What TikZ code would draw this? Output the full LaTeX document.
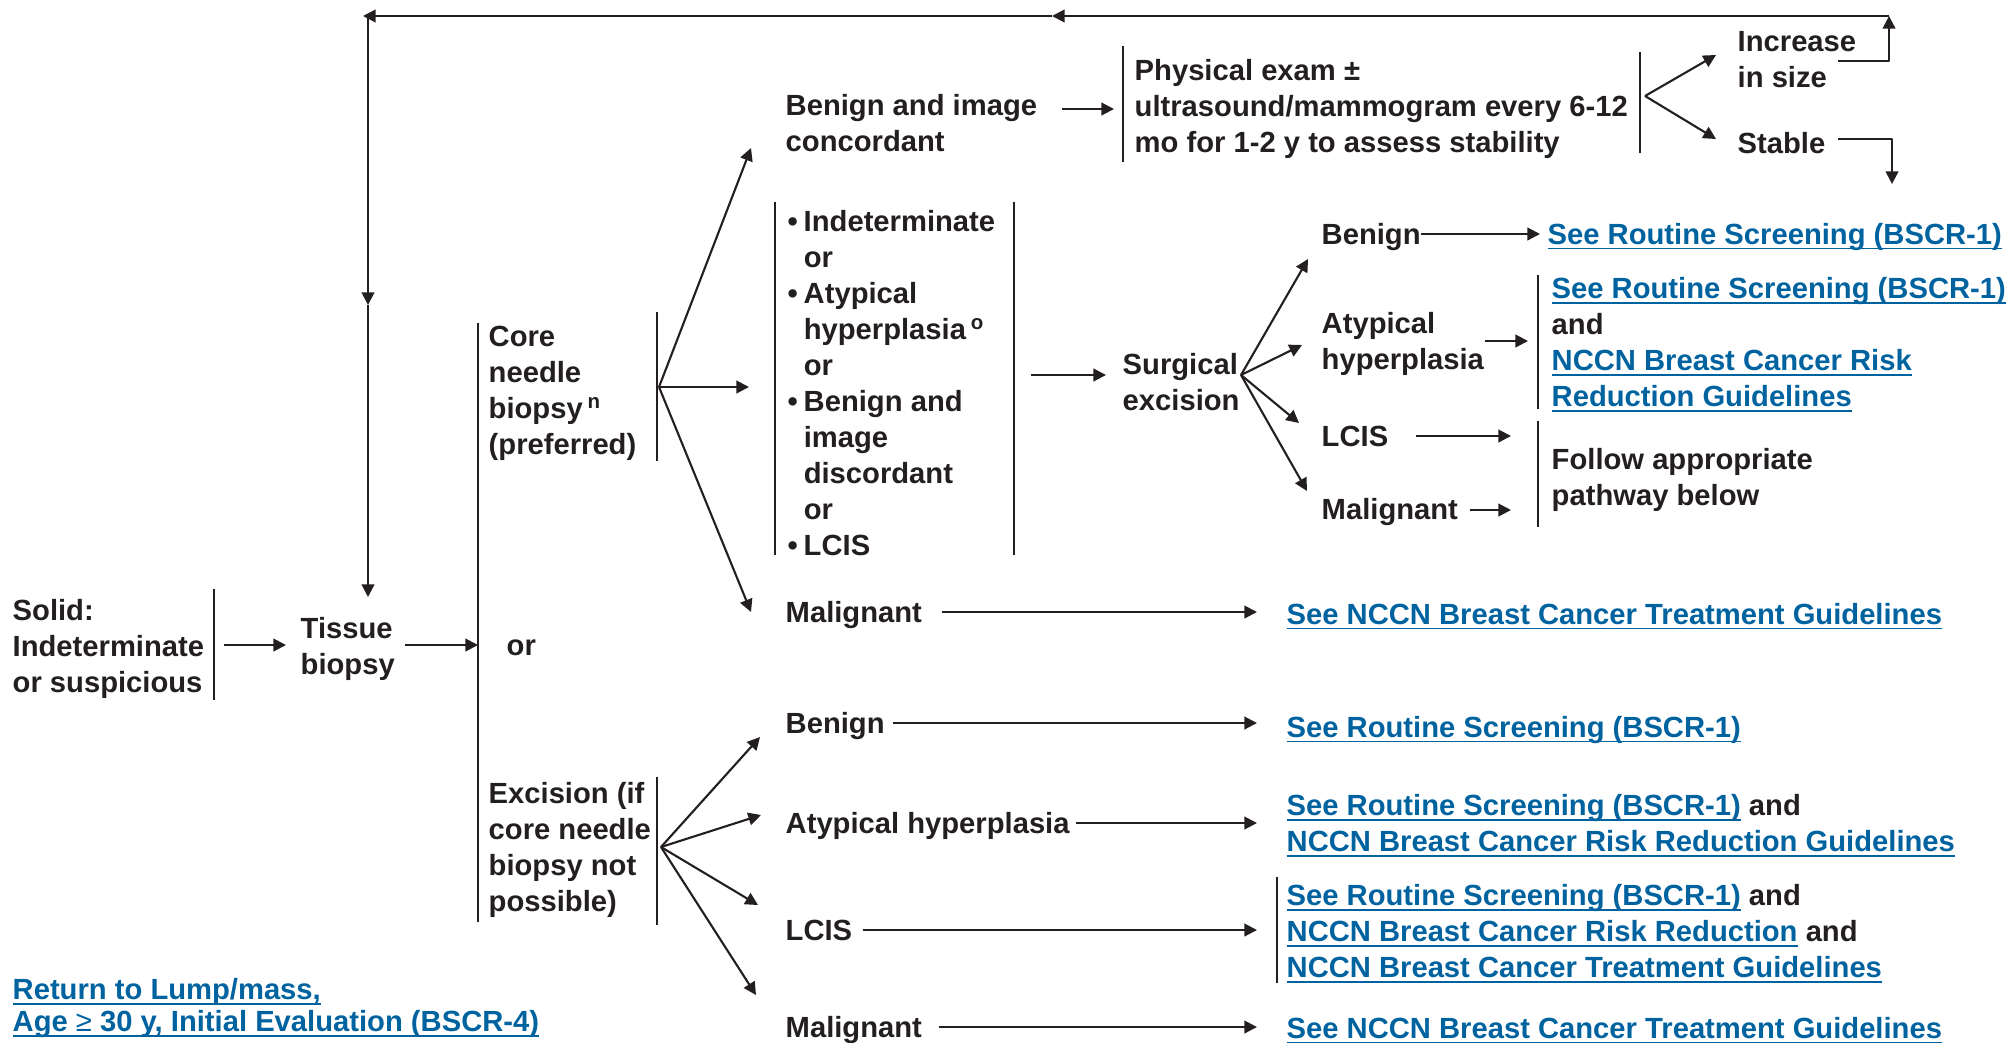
\documentclass[tikz,border=0pt]{standalone}
\usepackage{fontspec}
\setmainfont{Liberation Sans}
\usetikzlibrary{arrows.meta}
\definecolor{linkblue}{RGB}{0,99,160}
\definecolor{ink}{RGB}{35,31,32}
\newsavebox{\lnkbox}
\newcommand{\lnk}[1]{{\color{linkblue}\sbox{\lnkbox}{#1}\rlap{\rule[-1.4pt]{\wd\lnkbox}{0.55pt}}\usebox{\lnkbox}}}
\newcommand{\itm}{\makebox[0.55em][l]{\textbullet}}
\newcommand{\ind}{\hspace*{0.55em}}
\tikzset{
  lbl/.style={inner sep=0pt, align=left, text=ink},
  one/.style={lbl, anchor=west, text height=6.2pt, text depth=0.2pt},
  arr/.style={-{Triangle[length=3.6pt,width=3.6pt]}, line width=0.6pt, draw=ink},
  bar/.style={line width=0.6pt, draw=ink},
}
\begin{document}
\begin{tikzpicture}[x=0.01cm, y=-0.01cm, font=\fontsize{8.3}{10.24}\selectfont\bfseries, line join=round]
\useasboundingbox (0,0) rectangle (2007,1042);

\node[lbl, anchor=north west] (solid) at (12,599) {Solid:\\Indeterminate\\or suspicious};
\draw[bar] (214,589) -- (214,700);
\node[lbl, anchor=north west] (tissue) at (300,617) {Tissue\\biopsy};
\coordinate (solidout) at (224,645);
\draw[arr, shorten >=1.4mm] (solidout) -- (solidout -| tissue.west);
\coordinate (split) at (478,645);
\draw[arr, shorten <=1mm] (tissue.east |- split) -- (split);
\draw[bar] (478,323) -- (478,922);
\node[one] (or) at (506,645) {or};

\node[lbl, anchor=north west] (core) at (488,325) {Core\\needle\\biopsy\,\textsuperscript{n}\\(preferred)};
\draw[bar] (657,312) -- (657,461);
\coordinate (corefan) at (659,387);
\coordinate (c1) at (751,148);
\coordinate (c2) at (749,387);
\coordinate (c3) at (751,612);
\draw[arr] (corefan) -- (c1);
\draw[arr] (corefan) -- (c2);
\draw[arr] (corefan) -- (c3);

\node[lbl, anchor=north west] (bci) at (785,94) {Benign and image\\concordant};
\coordinate (physin) at (1123,109);
\draw[arr, shorten <=2.4mm, shorten >=0.9mm] (bci.east |- physin) -- (physin);
\draw[bar] (1123,46) -- (1123,162);
\node[lbl, anchor=north west] (phys) at (1134,59) {Physical exam ±\\ultrasound/mammogram every 6-12\\mo for 1-2 y to assess stability};
\draw[bar] (1640,52) -- (1640,153);
\coordinate (physfan) at (1645,96);
\coordinate (p1) at (1716,55);
\coordinate (p2) at (1716,139);
\draw[arr] (physfan) -- (p1);
\draw[arr] (physfan) -- (p2);
\node[lbl, anchor=north west] (incr) at (1737,31) {Increase\\in size};
\node[one] (stable) at (1737,143) {Stable};

\coordinate (loopA) at (1838,61);
\coordinate (topR) at (1889,16);
\coordinate (topM) at (1052,16);
\coordinate (topL) at (363,16);
\coordinate (downL) at (368,16);
\coordinate (downM) at (368,305);
\coordinate (tissuein) at (368,597);
\draw[arr] (loopA) -| (topR);
\draw[arr] (topR) -- (topM);
\draw[arr] (topM) -- (topL);
\draw[arr] (downL) -- (downM);
\draw[arr] (downM) -- (tissuein);
\coordinate (stA) at (1838,139);
\coordinate (stB) at (1892,184);
\draw[arr] (stA) -| (stB);

\draw[bar] (775,202) -- (775,555);
\draw[bar] (1014,202) -- (1014,555);
\node[lbl, anchor=north west] (indet) at (787,210) {\itm Indeterminate\\\ind or\\\itm Atypical\\\ind hyperplasia\,\textsuperscript{o}\\\ind or\\\itm Benign and\\\ind image\\\ind discordant\\\ind or\\\itm LCIS};
\coordinate (listR) at (1014,375);
\node[lbl, anchor=north west] (surg) at (1122,353) {Surgical\\excision};
\coordinate (surgin) at (1106,375);
\draw[arr, shorten <=1.7mm] (listR) -- (surgin);
\coordinate (surgfan) at (1241,375);
\coordinate (s1) at (1308,259);
\coordinate (s2) at (1302,345);
\coordinate (s3) at (1299,423);
\coordinate (s4) at (1307,491);
\draw[arr] (surgfan) -- (s1);
\draw[arr] (surgfan) -- (s2);
\draw[arr] (surgfan) -- (s3);
\draw[arr] (surgfan) -- (s4);

\node[one] (sbenign) at (1321,234) {Benign};
\node[one] (sblink) at (1547,234) {\lnk{See Routine Screening (BSCR-1)}};
\draw[arr, shorten >=0.7mm] (sbenign.east) -- (sbenign.east -| sblink.west);
\node[lbl, anchor=north west] (satyp) at (1321,312) {Atypical\\hyperplasia};
\coordinate (atypbar) at (1538,341);
\draw[arr, shorten >=1mm] (satyp.east |- atypbar) -- (atypbar);
\draw[bar] (1538,275) -- (1538,409);
\node[lbl, anchor=north west] (satext) at (1551,277) {\lnk{See Routine Screening (BSCR-1)}\\and\\\lnk{NCCN Breast Cancer Risk}\\\lnk{Reduction Guidelines}};
\node[one] (slcis) at (1321,436) {LCIS};
\coordinate (lcisbar) at (1538,436);
\draw[arr, shorten <=2.7mm, shorten >=2.7mm] (slcis.east |- lcisbar) -- (lcisbar);
\node[one] (smal) at (1321,509) {Malignant};
\coordinate (malbar) at (1538,510);
\draw[arr, shorten <=1.1mm, shorten >=2.7mm] (smal.east |- malbar) -- (malbar);
\draw[bar] (1538,421) -- (1538,527);
\node[lbl, anchor=north west] (follow) at (1551,448) {Follow appropriate\\pathway below};

\node[one] (cmal) at (785,612) {Malignant};
\node[one] (cmlink) at (1286,614) {\lnk{See NCCN Breast Cancer Treatment Guidelines}};
\draw[arr, shorten <=1.9mm, shorten >=2.9mm] (cmal.east) -- (cmal.east -| cmlink.west);

\node[lbl, anchor=north west] (excision) at (488,782) {Excision (if\\core needle\\biopsy not\\possible)};
\draw[bar] (657,777) -- (657,925);
\coordinate (exfan) at (661,847);
\coordinate (e1) at (760,737);
\coordinate (e2) at (761,815);
\coordinate (e3) at (758,905);
\coordinate (e4) at (756,995);
\draw[arr] (exfan) -- (e1);
\draw[arr] (exfan) -- (e2);
\draw[arr] (exfan) -- (e3);
\draw[arr] (exfan) -- (e4);

\node[one] (ebenign) at (785,723) {Benign};
\node[one] (eblink) at (1286,727) {\lnk{See Routine Screening (BSCR-1)}};
\draw[arr, shorten <=0.8mm, shorten >=2.9mm] (ebenign.east) -- (ebenign.east -| eblink.west);
\node[one] (eatyp) at (785,823) {Atypical hyperplasia};
\node[lbl, anchor=north west] (eatext) at (1286,794) {\lnk{See Routine Screening (BSCR-1)} and\\\lnk{NCCN Breast Cancer Risk Reduction Guidelines}};
\draw[arr, shorten <=0.6mm, shorten >=2.9mm] (eatyp.east) -- (eatyp.east -| eatext.west);
\node[one] (elcis) at (785,930) {LCIS};
\draw[bar] (1277,877) -- (1277,983);
\node[lbl, anchor=north west] (eltext) at (1286,884) {\lnk{See Routine Screening (BSCR-1)} and\\\lnk{NCCN Breast Cancer Risk Reduction} and\\\lnk{NCCN Breast Cancer Treatment Guidelines}};
\draw[arr, shorten <=1mm, shorten >=2.9mm] (elcis.east) -- (elcis.east -| eltext.west);
\node[one] (emal) at (785,1027) {Malignant};
\node[one] (emlink) at (1286,1028) {\lnk{See NCCN Breast Cancer Treatment Guidelines}};
\draw[arr, shorten <=1.6mm, shorten >=2.9mm] (emal.east) -- (emal.east -| emlink.west);

\node[lbl, anchor=north west, font=\fontsize{8.3}{9.1}\selectfont\bfseries] (back) at (12,978) {\lnk{Return to Lump/mass,}\\\lnk{Age {\mdseries ≥} 30 y, Initial Evaluation (BSCR-4)}};
\end{tikzpicture}
\end{document}
